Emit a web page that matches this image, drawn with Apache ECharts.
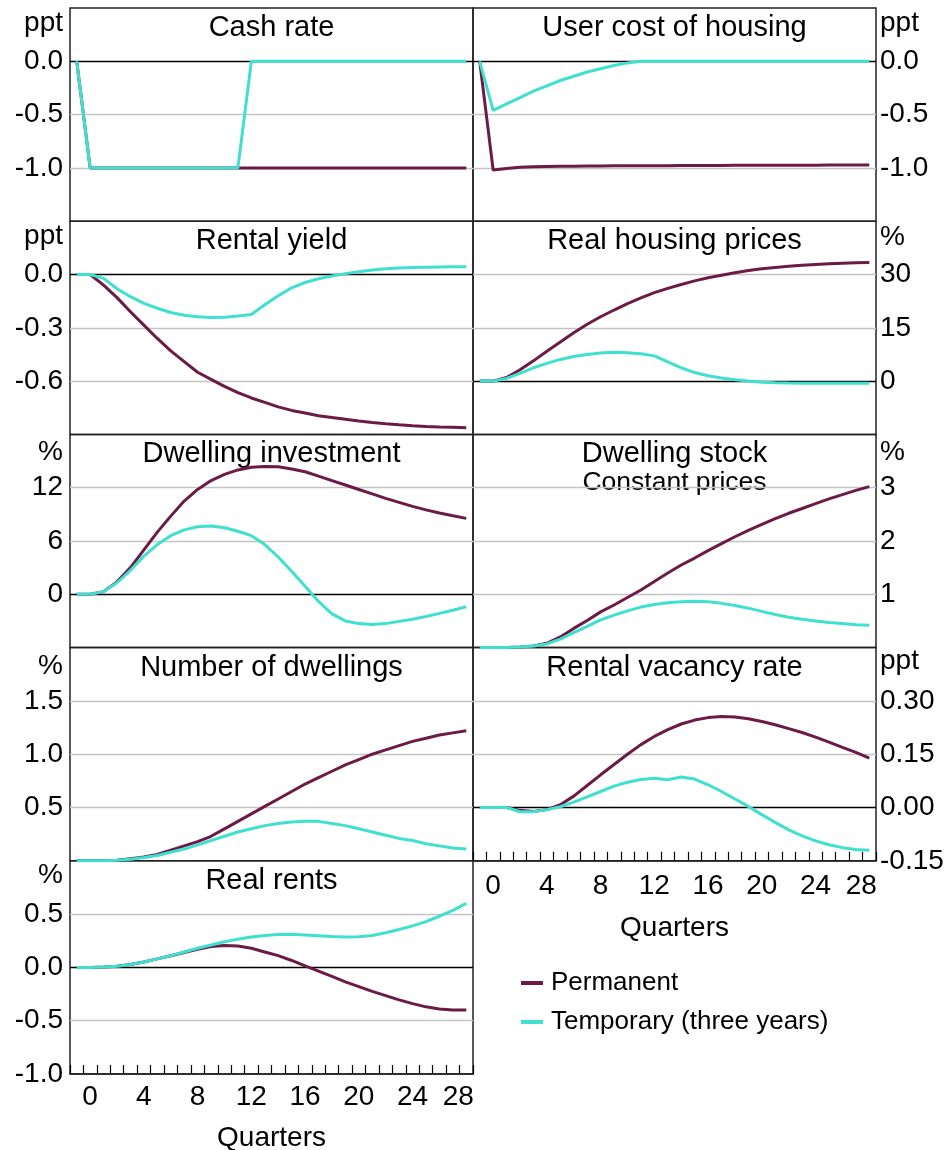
<!DOCTYPE html>
<html><head><meta charset="utf-8">
<script src="https://cdn.jsdelivr.net/npm/echarts@6/dist/echarts.min.js"></script>
<style>html,body{margin:0;padding:0;background:#fff}#c{width:950px;height:1150px}</style>
</head><body><div id="c"></div>
<script>
// ---------- DATA (quarters -1 .. 28) ----------
const quarters = ['-1','0','1','2','3','4','5','6','7','8','9','10','11','12','13','14','15','16','17','18','19','20','21','22','23','24','25','26','27','28'];
const seriesNames = ['Permanent', 'Temporary (three years)'];

const cashPerm = [0,-1,-1,-1,-1,-1,-1,-1,-1,-1,-1,-1,-1,-1,-1,-1,-1,-1,-1,-1,-1,-1,-1,-1,-1,-1,-1,-1,-1,-1];
const cashTemp = [0,-1,-1,-1,-1,-1,-1,-1,-1,-1,-1,-1,-1,0,0,0,0,0,0,0,0,0,0,0,0,0,0,0,0,0];

const userPerm = [0,-1.02,-1.005,-0.995,-0.99,-0.987,-0.985,-0.984,-0.983,-0.982,-0.981,-0.98,-0.98,-0.979,-0.979,-0.978,-0.978,-0.977,-0.977,-0.976,-0.976,-0.975,-0.975,-0.975,-0.974,-0.974,-0.973,-0.973,-0.972,-0.972];
const userTemp = [0,-0.46,-0.40,-0.34,-0.28,-0.23,-0.18,-0.14,-0.10,-0.07,-0.04,-0.015,0,0,0,0,0,0,0,0,0,0,0,0,0,0,0,0,0,0];

const yieldPerm = [0,0,-0.06,-0.13,-0.21,-0.285,-0.36,-0.43,-0.49,-0.55,-0.59,-0.63,-0.665,-0.695,-0.72,-0.745,-0.765,-0.78,-0.795,-0.805,-0.815,-0.825,-0.833,-0.84,-0.846,-0.851,-0.855,-0.858,-0.86,-0.862];
const yieldTemp = [0,0,-0.022,-0.08,-0.125,-0.163,-0.19,-0.214,-0.229,-0.238,-0.242,-0.24,-0.234,-0.225,-0.17,-0.12,-0.075,-0.045,-0.024,-0.008,0.005,0.016,0.025,0.032,0.036,0.039,0.041,0.042,0.043,0.043];

const pricePerm = [0,0,1.0,3.2,5.7,8.4,11.0,13.6,16.0,18.1,20.0,21.8,23.4,24.9,26.1,27.2,28.2,29.1,29.8,30.5,31.1,31.6,32.0,32.3,32.6,32.8,33.0,33.2,33.3,33.4];
const priceTemp = [0,0,0.75,2.2,3.75,5.0,6.1,6.9,7.5,7.9,8.1,8.0,7.7,7.1,5.4,3.75,2.4,1.5,0.85,0.4,0,-0.3,-0.47,-0.55,-0.58,-0.6,-0.6,-0.6,-0.6,-0.6];

const investPerm = [0,0,0.3,1.4,3.0,5.0,7.0,8.8,10.5,11.8,12.8,13.5,14.0,14.3,14.4,14.35,14.1,13.8,13.3,12.8,12.3,11.8,11.3,10.8,10.35,9.9,9.5,9.15,8.85,8.55];
const investTemp = [0,0,0.3,1.3,2.7,4.3,5.6,6.6,7.25,7.6,7.7,7.5,7.1,6.6,5.6,4.2,2.6,0.9,-0.8,-2.2,-3.0,-3.3,-3.4,-3.3,-3.05,-2.8,-2.5,-2.15,-1.8,-1.4];

const stockPerm = [0,0,0.002,0.01,0.03,0.08,0.2,0.36,0.51,0.67,0.8,0.94,1.08,1.24,1.4,1.55,1.68,1.82,1.95,2.08,2.2,2.31,2.42,2.52,2.61,2.7,2.79,2.87,2.95,3.02];
const stockTemp = [0,0,0.002,0.01,0.03,0.07,0.16,0.28,0.4,0.52,0.61,0.69,0.76,0.81,0.84,0.86,0.87,0.86,0.83,0.79,0.74,0.68,0.62,0.57,0.53,0.5,0.47,0.45,0.43,0.42];

const dwellPerm = [0,0,0,0.005,0.02,0.035,0.06,0.1,0.14,0.18,0.23,0.3,0.37,0.44,0.51,0.58,0.65,0.72,0.78,0.84,0.9,0.95,1.0,1.04,1.08,1.12,1.15,1.18,1.2,1.22];
const dwellTemp = [0,0,0,0.005,0.015,0.03,0.05,0.08,0.11,0.15,0.19,0.23,0.27,0.3,0.33,0.35,0.365,0.37,0.37,0.35,0.33,0.3,0.27,0.24,0.21,0.19,0.16,0.14,0.12,0.11];

const vacPerm = [0,0,0,-0.008,-0.011,-0.006,0.008,0.032,0.062,0.092,0.121,0.15,0.177,0.2,0.219,0.235,0.246,0.253,0.256,0.255,0.25,0.242,0.233,0.222,0.211,0.198,0.184,0.169,0.155,0.139];
const vacTemp = [0,0,0,-0.012,-0.012,-0.006,0.002,0.015,0.03,0.045,0.06,0.071,0.079,0.082,0.078,0.086,0.08,0.064,0.045,0.024,0.003,-0.02,-0.042,-0.063,-0.08,-0.094,-0.105,-0.113,-0.118,-0.12];

const rentPerm = [0,0,0.003,0.01,0.028,0.05,0.08,0.11,0.14,0.17,0.195,0.205,0.2,0.18,0.145,0.11,0.065,0.015,-0.035,-0.085,-0.135,-0.18,-0.225,-0.265,-0.305,-0.34,-0.37,-0.39,-0.40,-0.40];
const rentTemp = [0,0,0.003,0.01,0.028,0.05,0.08,0.11,0.145,0.18,0.21,0.24,0.265,0.285,0.3,0.308,0.31,0.305,0.298,0.29,0.285,0.288,0.3,0.325,0.355,0.39,0.43,0.48,0.535,0.6];

// ---------- PANEL DEFINITIONS ----------
const panels = [
  {title:'Cash rate', unit:'ppt', perm:cashPerm, temp:cashTemp, min:-1.5, max:0.5, step:0.5, lo:-1, hi:0, dp:1, zero:3},
  {title:'User cost of housing', unit:'ppt', perm:userPerm, temp:userTemp, min:-1.5, max:0.5, step:0.5, lo:-1, hi:0, dp:1, zero:3},
  {title:'Rental yield', unit:'ppt', perm:yieldPerm, temp:yieldTemp, min:-0.9, max:0.3, step:0.3, lo:-0.6, hi:0, dp:1, zero:3},
  {title:'Real housing prices', unit:'%', perm:pricePerm, temp:priceTemp, min:-15, max:45, step:15, lo:0, hi:30, dp:0, zero:1},
  {title:'Dwelling investment', unit:'%', perm:investPerm, temp:investTemp, min:-6, max:18, step:6, lo:0, hi:12, dp:0, zero:1},
  {title:'Dwelling stock', sub:'Constant prices', unit:'%', perm:stockPerm, temp:stockTemp, min:0, max:4, step:1, lo:1, hi:3, dp:0, zero:-1},
  {title:'Number of dwellings', unit:'%', perm:dwellPerm, temp:dwellTemp, min:0, max:2, step:0.5, lo:0.5, hi:1.5, dp:1, zero:-1},
  {title:'Rental vacancy rate', unit:'ppt', perm:vacPerm, temp:vacTemp, min:-0.15, max:0.45, step:0.15, lo:-0.15, hi:0.3, dp:2, zero:1, xlab:true},
  {title:'Real rents', unit:'%', perm:rentPerm, temp:rentTemp, min:-1, max:1, step:0.5, lo:-1, hi:0.5, dp:1, zero:2, xlab:true}
];

// ---------- LAYOUT / STYLE ----------
const FONT = '"Liberation Sans", Arial, sans-serif';
const COL_LEFT = [70, 473], PW = 403, TOP0 = 8, PH = 213.2;
const PERM_C = '#6B1B45', TEMP_C = '#40E0D0';
const GRID_C = '#c4c4c4', FRAME_C = '#222';
const unitDy = [15, 15, 15.5, 16, 18, 18, 18.5, 13.5, 14.5];
const xLabMargin = {7: 11, 8: 9}, xNameGap = {7: 53, 8: 50};

const grids = [], xAxes = [], yAxes = [], series = [], graphics = [];
panels.forEach((p, i) => {
  const col = i === 8 ? 0 : i % 2;
  const row = Math.floor(i / 2);
  const left = COL_LEFT[col], top = TOP0 + row * PH;
  grids.push({left: left, top: top, width: PW, height: PH, show: true, borderColor: FRAME_C, borderWidth: 1.5,
    backgroundColor: 'transparent', containLabel: false, outerBoundsMode: 'none'});
  xAxes.push({
    type: 'category', gridIndex: i, data: quarters, boundaryGap: true, position: 'bottom',
    axisLine: {show: !!p.xlab, onZero: false, lineStyle: {color: FRAME_C, width: 1.5}},
    axisTick: {show: !!p.xlab, inside: true, length: 9, interval: 0, lineStyle: {color: '#000', width: 1.2}},
    axisLabel: {
      show: !!p.xlab, margin: xLabMargin[i] || 10, fontSize: 28, fontFamily: FONT, color: '#000',
      interval: (idx, v) => { const n = Number(v); return n >= 0 && n % 4 === 0; },
      formatter: v => v === '28' ? '{s|28}' : v,
      rich: {s: {fontSize: 28, fontFamily: FONT, color: '#000', padding: [0, 16, 0, 0]}}
    },
    splitLine: {show: false},
    name: p.xlab ? 'Quarters' : '', nameLocation: 'middle', nameGap: xNameGap[i] || 52,
    nameTextStyle: {fontSize: 28, fontFamily: FONT, color: '#000'}
  });
  // split-line colours are counted from the first interior line (min line hidden)
  const colors = [];
  for (let k = 0; k < 5; k++) colors.push(k === p.zero - 1 ? '#000' : GRID_C);
  yAxes.push({
    type: 'value', gridIndex: i, min: p.min, max: p.max, interval: p.step,
    position: col === 0 ? 'left' : 'right',
    axisLine: {show: false}, axisTick: {show: false},
    axisLabel: {
      margin: col === 0 ? 7 : 4, fontSize: 28, fontFamily: FONT, color: '#000',
      showMinLabel: true, showMaxLabel: true,
      formatter: v => (v >= p.lo - 1e-9 && v <= p.hi + 1e-9) ? (Math.abs(v) < 1e-9 ? 0 : v).toFixed(p.dp) : ''
    },
    splitLine: {show: true, showMinLine: false, showMaxLine: false, lineStyle: {color: colors, width: 1.4}}
  });
  series.push({name: seriesNames[0], type: 'line', xAxisIndex: i, yAxisIndex: i, data: p.perm,
    symbol: 'none', showSymbol: false, lineStyle: {color: PERM_C, width: 3}, itemStyle: {color: PERM_C}, z: 3, animation: false});
  series.push({name: seriesNames[1], type: 'line', xAxisIndex: i, yAxisIndex: i, data: p.temp,
    symbol: 'none', showSymbol: false, lineStyle: {color: TEMP_C, width: 3}, itemStyle: {color: TEMP_C}, z: 4, animation: false});
  const cx = left + PW / 2;
  graphics.push({type: 'text', x: cx, y: top + 20, silent: true,
    style: {text: p.title, textAlign: 'center', textVerticalAlign: 'middle', fontSize: 29, fontFamily: FONT, fill: '#000'}});
  if (p.sub) graphics.push({type: 'text', x: cx, y: top + 48.5, silent: true,
    style: {text: p.sub, textAlign: 'center', textVerticalAlign: 'middle', fontSize: 26.5, fontFamily: FONT, fill: '#000'}});
  graphics.push({type: 'text', x: col === 0 ? left - 7 : left + PW + 4, y: top + unitDy[i], silent: true,
    style: {text: p.unit, textAlign: col === 0 ? 'right' : 'left', textVerticalAlign: 'middle', fontSize: 28, fontFamily: FONT, fill: '#000'}});
});

const chart = echarts.init(document.getElementById('c'), null, {renderer: 'canvas'});
chart.setOption({
  animation: false,
  backgroundColor: '#fff',
  grid: grids, xAxis: xAxes, yAxis: yAxes, series: series, graphic: graphics,
  legend: {
    orient: 'vertical', left: 516, top: 965, itemWidth: 22, itemHeight: 4, itemGap: 13, icon: 'rect',
    data: seriesNames, selectedMode: false,
    textStyle: {fontSize: 26, fontFamily: FONT, color: '#000', padding: [0, 0, 0, 3]}
  }
});
</script></body></html>
